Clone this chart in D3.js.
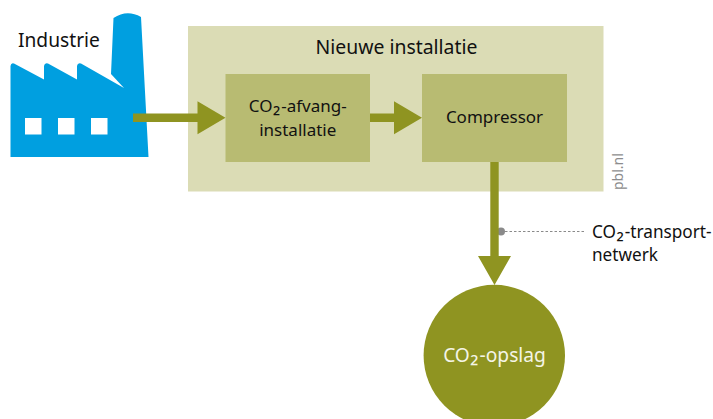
<!DOCTYPE html>
<html>
<head>
<meta charset="utf-8">
<script src="https://cdnjs.cloudflare.com/ajax/libs/d3/7.8.5/d3.min.js"></script>
<style>
html, body { margin: 0; padding: 0; background: #fff; }
svg { display: block; }
text { font-family: "Noto Sans", sans-serif; }
</style>
</head>
<body>
<div id="chart"></div>
<script>
// labels
const factoryLabel = ["Industrie"];
const groupLabel = ["Nieuwe installatie"];
const captureLabel = ["CO₂-afvang-", "installatie"];
const compressorLabel = ["Compressor"];
const storageLabel = ["CO₂-opslag"];
const networkLabel = ["CO₂-transport-", "netwerk"];
const sourceLabel = ["pbl.nl"];

const width = 713, height = 419;
const blue = "#009fe0", olive = "#8f9421", boxDark = "#b8bb72", boxLight = "#dbdcb5";

const svg = d3.select("#chart").append("svg")
    .attr("width", width)
    .attr("height", height);

// factory outline, roof teeth then chimney
const factory = d3.path();
factory.moveTo(10.5, 157);
factory.lineTo(10.5, 66);
factory.quadraticCurveTo(11, 62.5, 14, 63.5);
factory.lineTo(44, 79.5);
factory.lineTo(44, 66);
factory.quadraticCurveTo(44.5, 62.5, 48, 63.5);
factory.lineTo(77, 79.5);
factory.lineTo(77, 66);
factory.quadraticCurveTo(77.5, 62.5, 81, 63.5);
factory.lineTo(124, 88);
factory.lineTo(111, 74);
factory.lineTo(113.5, 18);
factory.quadraticCurveTo(127, 9, 141, 17);
factory.lineTo(148.5, 157);
factory.closePath();
svg.append("path").attr("d", factory.toString()).attr("fill", blue);

svg.selectAll(".window")
    .data([25, 58, 91])
    .enter().append("rect")
    .attr("class", "window")
    .attr("x", function (d) { return d; })
    .attr("y", 118)
    .attr("width", 16.5)
    .attr("height", 16.5)
    .attr("fill", "#fff");

// boxes
svg.append("rect").attr("x", 188).attr("y", 26).attr("width", 415.5).attr("height", 165.5).attr("fill", boxLight);
svg.append("rect").attr("x", 225.5).attr("y", 74).attr("width", 144.5).attr("height", 88).attr("fill", boxDark);
svg.append("rect").attr("x", 422).attr("y", 74).attr("width", 145).attr("height", 88).attr("fill", boxDark);

// connector to the transport network, sits under the arrow
svg.append("line")
    .attr("x1", 505).attr("x2", 585)
    .attr("y1", 231.5).attr("y2", 231.5)
    .attr("stroke", "#8a8a8a")
    .attr("stroke-width", 1)
    .attr("stroke-dasharray", "2.5,2");
svg.append("circle").attr("cx", 501).attr("cy", 231.5).attr("r", 4).attr("fill", "#8a8a8a");

// storage circle
svg.append("circle").attr("cx", 494.3).attr("cy", 355.5).attr("r", 70.7).attr("fill", olive);

function arrowRight(x0, x1, y) {
    const p = d3.path();
    p.moveTo(x0, y - 4.2);
    p.lineTo(x1 - 28, y - 4.2);
    p.lineTo(x1 - 28, y - 16.5);
    p.lineTo(x1, y);
    p.lineTo(x1 - 28, y + 16.5);
    p.lineTo(x1 - 28, y + 4.2);
    p.lineTo(x0, y + 4.2);
    p.closePath();
    svg.append("path").attr("d", p.toString()).attr("fill", olive);
}

function arrowDown(x, y0, y1) {
    const p = d3.path();
    p.moveTo(x - 4.2, y0);
    p.lineTo(x - 4.2, y1 - 29);
    p.lineTo(x - 16.5, y1 - 29);
    p.lineTo(x, y1);
    p.lineTo(x + 16.5, y1 - 29);
    p.lineTo(x + 4.2, y1 - 29);
    p.lineTo(x + 4.2, y0);
    p.closePath();
    svg.append("path").attr("d", p.toString()).attr("fill", olive);
}

arrowRight(133, 225.5, 117.7);
arrowRight(370, 422, 117.7);
arrowDown(494.5, 162, 285);

// the subscript glyph is small in Noto, so it gets a slightly larger tspan
function label(lines, x, y, anchor, size, fill) {
    svg.append("g").selectAll("text")
        .data(lines)
        .enter().append("text")
        .attr("x", x)
        .attr("y", function (d, i) { return y + i * 23.5; })
        .attr("text-anchor", anchor)
        .attr("font-size", size)
        .attr("fill", fill)
        .each(function (d) {
            const t = d3.select(this);
            const parts = d.split("₂");
            t.append("tspan").text(parts[0]);
            if (parts.length > 1) {
                t.append("tspan").attr("font-size", size * 1.22).attr("dx", 0.5).text("₂");
                t.append("tspan").attr("dx", 1).text(parts[1]);
            }
        });
}

label(factoryLabel, 18, 47, "start", 19.2, "#111");
label(groupLabel, 396.5, 53.5, "middle", 19.4, "#111");
label(captureLabel, 297.75, 112, "middle", 17, "#111");
label(compressorLabel, 494.5, 123, "middle", 17, "#111");
label(networkLabel, 592, 237.5, "start", 17.2, "#111");
label(storageLabel, 494.5, 362, "middle", 19.2, "#f4f4e6");

svg.append("text")
    .attr("transform", "translate(623,190) rotate(-90)")
    .attr("font-size", 14)
    .attr("fill", "#8c8c8c")
    .text(sourceLabel[0]);
</script>
</body>
</html>
